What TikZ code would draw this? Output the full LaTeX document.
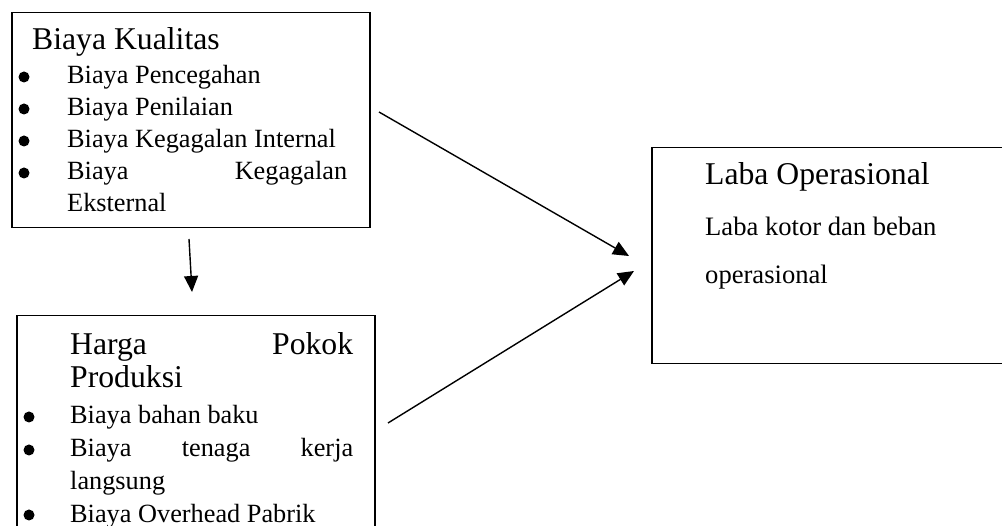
\documentclass[tikz,border=0pt]{standalone}
\usepackage{fontspec}
\setmainfont{Liberation Serif}
\usetikzlibrary{arrows.meta}
\begin{document}
\begin{tikzpicture}[x=1pt,y=-1pt,
  box/.style={draw, line width=1.5pt, inner sep=0pt, anchor=north west},
  ttl/.style={anchor=base west, inner sep=0pt, font=\fontsize{31.7}{38}\selectfont},
  itm/.style={anchor=base west, inner sep=0pt, font=\fontsize{26.3}{32}\selectfont},
  bul/.style={circle, fill, inner sep=0pt, minimum size=11pt},
  arr/.style={line width=1.4pt, -{Triangle[length=16pt,width=14pt]}}]
\useasboundingbox (0,0) rectangle (1002,526);
% boxes
\node[box, minimum width=358pt, minimum height=215pt] (kual) at (11,12) {};
\node[box, minimum width=358pt, minimum height=240pt] (hpp) at (16,315) {};
\node[box, minimum width=380pt, minimum height=216pt] (laba) at (651,147) {};
% box 1 text
\node[ttl] (t1) at (32,50) {Biaya Kualitas};
\node[bul] (b11) at (24,77) {};
\node[itm] (i11) at (67,84) {Biaya Pencegahan};
\node[bul] (b12) at (24,109) {};
\node[itm] (i12) at (67,116) {Biaya Penilaian};
\node[bul] (b13) at (24,141) {};
\node[itm] (i13) at (67,148) {Biaya Kegagalan Internal};
\node[bul] (b14) at (24,173) {};
\node[itm] (i14) at (67,180) {\makebox[280pt]{Biaya\hfill Kegagalan}};
\node[itm] (i15) at (67,212) {Eksternal};
% box 2 text
\node[ttl] (t2) at (70,355) {\makebox[283pt]{Harga\hfill Pokok}};
\node[ttl] (t2b) at (70,388) {Produksi};
\node[bul] (b21) at (29,417) {};
\node[itm] (i21) at (70,424) {Biaya bahan baku};
\node[bul] (b22) at (29,450) {};
\node[itm] (i22) at (70,457) {\makebox[283pt]{Biaya\hfill tenaga\hfill kerja}};
\node[itm] (i23) at (70,490) {langsung};
\node[bul] (b23) at (29,515) {};
\node[itm] (i24) at (70,522) {Biaya Overhead Pabrik};
% box 3 text
\node[ttl] (t3) at (705,185) {Laba Operasional};
\node[itm, font=\fontsize{26.6}{32}\selectfont] (i31) at (705,236) {Laba kotor dan beban};
\node[itm, font=\fontsize{26.6}{32}\selectfont] (i32) at (705,284) {operasional};
% connectors
\coordinate (a1s) at (379,112);
\coordinate (a1e) at (629,256);
\coordinate (a2s) at (388,423);
\coordinate (a2e) at (634,271);
\coordinate (a3s) at (189,239);
\coordinate (a3e) at (192,292);
\draw[arr] (a1s) -- (a1e);
\draw[arr] (a2s) -- (a2e);
\draw[arr] (a3s) -- (a3e);
\end{tikzpicture}
\end{document}
